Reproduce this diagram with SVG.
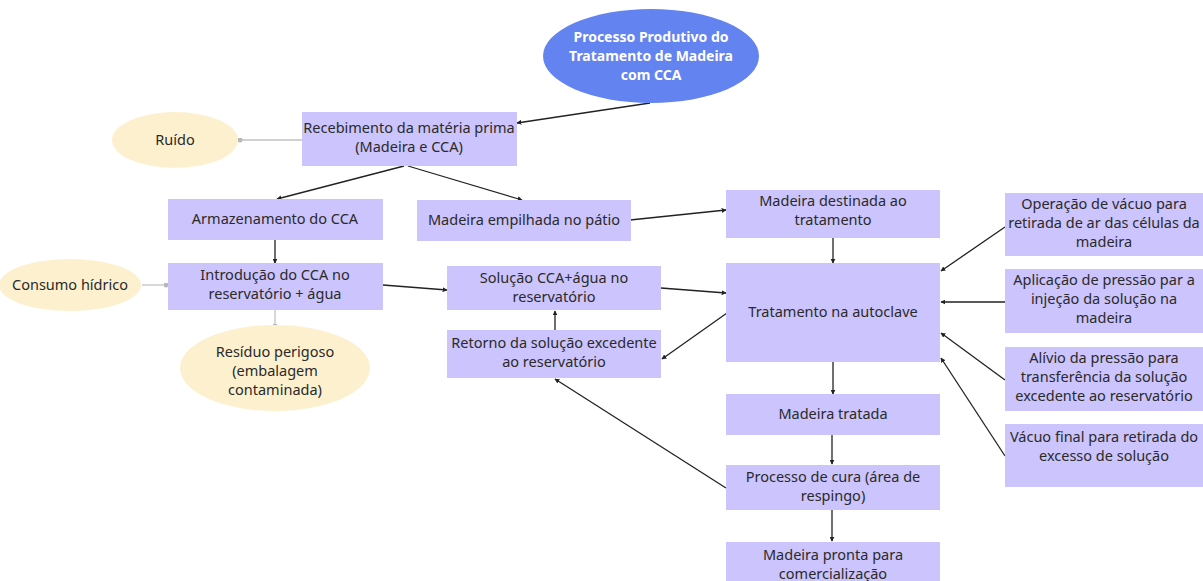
<svg xmlns="http://www.w3.org/2000/svg" width="1203" height="581" viewBox="0 0 1203 581">
<defs>
<style>
.box{fill:#ccc4fc;}
.y{fill:#fcf0ce;}
.t{font-family:"Noto Sans","Open Sans",sans-serif;font-size:14.5px;fill:#2a2a2a;text-anchor:middle;}
.tw{font-family:"Noto Sans","Open Sans",sans-serif;font-size:14px;font-weight:bold;fill:#ffffff;text-anchor:middle;}
.c{stroke:#222;stroke-width:1.3;fill:none;marker-end:url(#a);}
.g{stroke:#c2c2c2;stroke-width:1.3;fill:none;marker-end:url(#d);}
</style>
<marker id="a" viewBox="0 0 8 8" refX="7" refY="4" markerWidth="5" markerHeight="5" orient="auto" markerUnits="userSpaceOnUse"><path d="M0,0 L8,4 L0,8 z" fill="#222"/></marker>
<marker id="d" viewBox="0 0 8 8" refX="4" refY="4" markerWidth="5" markerHeight="5" markerUnits="userSpaceOnUse"><circle cx="4" cy="4" r="4" fill="#b8b8b8"/></marker>
</defs>
<rect width="1203" height="581" fill="#ffffff"/>
<g id="connectors">
<line class="c" x1="650" y1="103" x2="517" y2="123"/>
<line class="c" x1="404" y1="166" x2="277" y2="199"/>
<line class="c" x1="408" y1="166" x2="522" y2="200"/>
<line class="g" x1="302" y1="140" x2="240" y2="140"/>
<line class="c" x1="275" y1="240" x2="275" y2="263"/>
<line class="g" x1="142" y1="285" x2="166" y2="285"/>
<line class="g" x1="275" y1="310" x2="275" y2="326"/>
<line class="c" x1="383" y1="285" x2="447" y2="290"/>
<line class="c" x1="630" y1="220" x2="726" y2="210"/>
<line class="c" x1="833" y1="238" x2="833" y2="263"/>
<line class="c" x1="661" y1="288" x2="726" y2="293"/>
<line class="c" x1="727" y1="313" x2="662" y2="359"/>
<line class="c" x1="555" y1="330" x2="555" y2="311"/>
<line class="c" x1="726" y1="488" x2="555" y2="379"/>
<line class="c" x1="833" y1="362" x2="833" y2="394"/>
<line class="c" x1="832" y1="435" x2="832" y2="464"/>
<line class="c" x1="832" y1="510" x2="832" y2="541"/>
<line class="c" x1="1005" y1="227" x2="941" y2="271"/>
<line class="c" x1="1005" y1="302" x2="941" y2="302"/>
<line class="c" x1="1005" y1="380" x2="941" y2="333"/>
<line class="c" x1="1005" y1="456" x2="941" y2="358"/>
</g>
<g id="n-titulo">
<ellipse cx="651" cy="56" rx="108" ry="47" fill="#6383f0"/>
<text class="tw" x="651" y="42">Processo Produtivo do</text>
<text class="tw" x="651" y="61">Tratamento de Madeira</text>
<text class="tw" x="651" y="80">com CCA</text>
</g>
<g id="n-ruido">
<ellipse class="y" cx="175" cy="140" rx="63" ry="28"/>
<text class="t" x="175" y="145">Ruído</text>
</g>
<g id="n-recebimento">
<rect class="box" x="302" y="112" width="215" height="54"/>
<text class="t" x="409" y="133">Recebimento da matéria prima</text>
<text class="t" x="409" y="152">(Madeira e CCA)</text>
</g>
<g id="n-armazenamento">
<rect class="box" x="168" y="199" width="215" height="41"/>
<text class="t" x="275" y="224">Armazenamento do CCA</text>
</g>
<g id="n-empilhada">
<rect class="box" x="417" y="200" width="214" height="41"/>
<text class="t" x="524" y="225">Madeira empilhada no pátio</text>
</g>
<g id="n-destinada">
<rect class="box" x="726" y="190" width="214" height="48"/>
<text class="t" x="833" y="206">Madeira destinada ao</text>
<text class="t" x="833" y="225">tratamento</text>
</g>
<g id="n-consumo">
<ellipse class="y" cx="70" cy="285" rx="71" ry="26"/>
<text class="t" x="70" y="290">Consumo hídrico</text>
</g>
<g id="n-introducao">
<rect class="box" x="168" y="263" width="215" height="47"/>
<text class="t" x="275" y="280">Introdução do CCA no</text>
<text class="t" x="275" y="299">reservatório + água</text>
</g>
<g id="n-residuo">
<ellipse class="y" cx="275" cy="368" rx="95" ry="43"/>
<text class="t" x="275" y="357">Resíduo perigoso</text>
<text class="t" x="275" y="376">(embalagem</text>
<text class="t" x="275" y="395">contaminada)</text>
</g>
<g id="n-solucao">
<rect class="box" x="447" y="266" width="214" height="44"/>
<text class="t" x="554" y="283">Solução CCA+água no</text>
<text class="t" x="554" y="302">reservatório</text>
</g>
<g id="n-retorno">
<rect class="box" x="447" y="330" width="214" height="48"/>
<text class="t" x="554" y="348">Retorno da solução excedente</text>
<text class="t" x="554" y="367">ao reservatório</text>
</g>
<g id="n-autoclave">
<rect class="box" x="726" y="263" width="214" height="99"/>
<text class="t" x="833" y="317">Tratamento na autoclave</text>
</g>
<g id="n-tratada">
<rect class="box" x="726" y="394" width="214" height="41"/>
<text class="t" x="833" y="419">Madeira tratada</text>
</g>
<g id="n-cura">
<rect class="box" x="726" y="465" width="214" height="45"/>
<text class="t" x="833" y="482">Processo de cura (área de</text>
<text class="t" x="833" y="501">respingo)</text>
</g>
<g id="n-pronta">
<rect class="box" x="726" y="542" width="214" height="45"/>
<text class="t" x="833" y="560">Madeira pronta para</text>
<text class="t" x="833" y="579">comercialização</text>
</g>
<g id="n-vacuo">
<rect class="box" x="1005" y="193" width="198" height="63"/>
<text class="t" x="1104" y="209">Operação de vácuo para</text>
<text class="t" x="1104" y="228">retirada de ar das células da</text>
<text class="t" x="1104" y="247">madeira</text>
</g>
<g id="n-pressao">
<rect class="box" x="1005" y="269" width="198" height="64"/>
<text class="t" x="1104" y="285">Aplicação de pressão par a</text>
<text class="t" x="1104" y="304">injeção da solução na</text>
<text class="t" x="1104" y="323">madeira</text>
</g>
<g id="n-alivio">
<rect class="box" x="1005" y="347" width="198" height="64"/>
<text class="t" x="1104" y="363">Alívio da pressão para</text>
<text class="t" x="1104" y="382">transferência da solução</text>
<text class="t" x="1104" y="401">excedente ao reservatório</text>
</g>
<g id="n-vacuofinal">
<rect class="box" x="1005" y="424" width="198" height="63"/>
<text class="t" x="1104" y="442">Vácuo final para retirada do</text>
<text class="t" x="1104" y="461">excesso de solução</text>
</g>
</svg>
